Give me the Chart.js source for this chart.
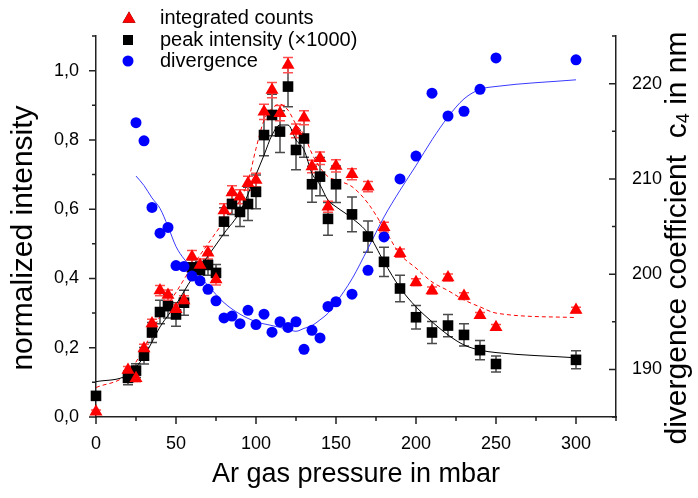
<!DOCTYPE html>
<html><head><meta charset="utf-8">
<script src="https://cdn.jsdelivr.net/npm/chart.js@4.4.0/dist/chart.umd.min.js"></script>
<style>html,body{margin:0;padding:0;background:#fff;}#wrap{width:698px;height:498px;}</style>
</head><body><div id="wrap"><canvas id="c" width="698" height="498"></canvas></div>
<script>
// ---- data ----
const pressureIntensity = [0,20,25,30,35,40,45,50,55,60,65,70,75,80,85,90,95,100,105,110,115,120,125,130,135,140,145,150,160,170,180,190,200,210,220,230,240,250,300];
const integratedCounts = [0.015,0.136,0.112,0.198,0.270,0.365,0.352,0.311,0.336,0.463,0.439,0.474,0.397,0.596,0.648,0.636,0.675,0.684,0.881,0.944,0.877,1.016,0.826,0.864,0.723,0.747,0.607,0.725,0.701,0.665,0.548,0.473,0.389,0.365,0.403,0.349,0.294,0.259,0.309];
const countsError = [0.005,0.010,0.010,0.012,0.012,0.015,0.015,0.013,0.014,0.018,0.017,0.018,0.016,0.020,0.020,0.020,0.020,0.020,0.022,0.022,0.022,0.022,0.020,0.020,0.018,0.018,0.016,0.018,0.016,0.015,0.014,0.012,0.010,0.010,0.010,0.010,0.008,0.008,0.008];
const peakIntensity = [0.061,0.113,0.134,0.177,0.244,0.303,0.320,0.296,0.330,0.432,0.424,0.439,0.416,0.564,0.615,0.592,0.615,0.650,0.814,0.872,0.824,0.954,0.771,0.804,0.672,0.694,0.572,0.672,0.585,0.521,0.448,0.371,0.288,0.244,0.264,0.237,0.193,0.153,0.165];
const peakError = [0,0.020,0.020,0.024,0.029,0.034,0.034,0.034,0.036,0.022,0.024,0.030,0.024,0.040,0.030,0.042,0.048,0.049,0.060,0.060,0.060,0.058,0.057,0.054,0.052,0.055,0.047,0.053,0.050,0.045,0.042,0.038,0.034,0.032,0.032,0.032,0.028,0.023,0.026];
const pressureDivergence = [25,30,35,40,45,50,55,60,65,70,75,80,85,90,95,100,105,110,115,120,125,130,135,140,145,150,160,170,180,190,200,210,220,230,240,250,300];
const divergence = [215.9,214.0,207.0,204.3,204.9,200.9,200.8,199.8,199.3,198.4,197.2,195.4,195.6,194.8,196.2,194.7,195.8,193.9,195.0,194.4,195.0,192.1,194.1,193.3,196.6,197.1,197.9,200.4,203.9,210.0,212.4,219.0,216.6,217.1,219.4,222.7,222.5];

const fitPeakX = [0,20,30,40,50,60,70,80,90,100,105,110,115,120,125,130,135,140,145,150,160,170,180,190,200,210,220,230,240,250,300];
const fitPeakY = [0.102,0.122,0.175,0.26,0.325,0.40,0.465,0.53,0.593,0.70,0.756,0.814,0.843,0.843,0.80,0.771,0.703,0.67,0.626,0.607,0.574,0.53,0.448,0.373,0.318,0.275,0.237,0.208,0.193,0.186,0.171];
const fitCountsX = [0,20,30,40,50,60,70,80,90,95,100,105,110,115,120,125,130,135,140,145,150,160,170,180,190,200,210,220,230,240,250,300];
const fitCountsY = [0.085,0.126,0.20,0.29,0.36,0.434,0.50,0.565,0.626,0.68,0.775,0.857,0.891,0.903,0.886,0.845,0.815,0.76,0.72,0.694,0.684,0.665,0.617,0.545,0.47,0.43,0.39,0.365,0.338,0.318,0.300,0.287];
const fitDivX = [25,30,35,40,45,50,55,60,70,80,90,100,110,120,125,130,135,140,145,150,160,170,180,190,200,210,220,230,240,250,300];
const fitDivY = [210.3,209.3,208.0,206.9,205.0,202.9,201.6,200.7,198.8,197.0,195.8,195.0,194.6,194.2,194.0,194.3,194.6,195.2,195.9,197.0,199.5,202.7,206.0,208.8,211.4,214.1,216.5,218.4,219.4,219.7,220.4];

const xMajorTicks = [0,50,100,150,200,250,300];
const xMinorTicks = [25,75,125,175,225,275,325];
const leftMajorTicks = [0,0.2,0.4,0.6,0.8,1.0];
const leftMinorTicks = [0.1,0.3,0.5,0.7,0.9,1.1];
const rightMajorTicks = [190,200,210,220];
const rightMinorTicks = [185,195,205,215,225];
const legendLabels = ['integrated counts','peak intensity (\u00d71000)','divergence'];

const FONT = '"Liberation Sans", Arial, sans-serif';
const zip = (xs, ys) => xs.map((x, i) => ({x, y: ys[i]}));

const customPlugin = {
  id: 'custom',
  beforeDatasetsDraw(chart) {
    const ctx = chart.ctx, xs = chart.scales.x, yl = chart.scales.y;
    ctx.save();
    const bars = (vals, errs, color, w) => {
      ctx.strokeStyle = color; ctx.lineWidth = w;
      vals.forEach((v, i) => {
        if (!errs[i]) return;
        const px = xs.getPixelForValue(pressureIntensity[i]);
        const t = yl.getPixelForValue(v + errs[i]), b = yl.getPixelForValue(v - errs[i]);
        ctx.beginPath();
        ctx.moveTo(px, t); ctx.lineTo(px, b);
        ctx.moveTo(px - 5, t); ctx.lineTo(px + 5, t);
        ctx.moveTo(px - 5, b); ctx.lineTo(px + 5, b);
        ctx.stroke();
      });
    };
    bars(peakIntensity, peakError, '#4a4a4a', 1.5);
    bars(integratedCounts, countsError, '#ff5050', 1.5);
    ctx.restore();
  },
  afterDraw(chart) {
    const ctx = chart.ctx, xs = chart.scales.x, yl = chart.scales.y, yr = chart.scales.y2;
    const ca = chart.chartArea;
    ctx.save();
    ctx.strokeStyle = '#222'; ctx.lineWidth = 1.5;
    ctx.beginPath();
    xMajorTicks.forEach(v => { const p = xs.getPixelForValue(v); ctx.moveTo(p, ca.bottom); ctx.lineTo(p, ca.bottom + 7); });
    xMinorTicks.forEach(v => { const p = xs.getPixelForValue(v); ctx.moveTo(p, ca.bottom); ctx.lineTo(p, ca.bottom + 4); });
    leftMajorTicks.forEach(v => { const p = yl.getPixelForValue(v); ctx.moveTo(ca.left, p); ctx.lineTo(ca.left - 7, p); });
    leftMinorTicks.forEach(v => { const p = yl.getPixelForValue(v); ctx.moveTo(ca.left, p); ctx.lineTo(ca.left - 4, p); });
    rightMajorTicks.forEach(v => { const p = yr.getPixelForValue(v); ctx.moveTo(ca.right, p); ctx.lineTo(ca.right - 7, p); });
    rightMinorTicks.forEach(v => { const p = yr.getPixelForValue(v); ctx.moveTo(ca.right, p); ctx.lineTo(ca.right - 4, p); });
    ctx.stroke();

    // titles
    ctx.fillStyle = '#000';
    ctx.font = '27px ' + FONT;
    ctx.textAlign = 'center'; ctx.textBaseline = 'middle';
    ctx.fillText('Ar gas pressure in mbar', (ca.left + ca.right) / 2, 475);
    ctx.save();
    ctx.translate(24, 238); ctx.rotate(-Math.PI / 2);
    ctx.font = '30px ' + FONT;
    ctx.fillText('normalized intensity', 0, 0);
    ctx.restore();
    ctx.save();
    ctx.translate(678, 238); ctx.rotate(-Math.PI / 2);
    const p1 = 'divergence coefficient  c', sub = '4', p3 = ' in nm';
    ctx.font = '30px ' + FONT; const w1 = ctx.measureText(p1).width, w3 = ctx.measureText(p3).width;
    ctx.font = '18px ' + FONT; const w2 = ctx.measureText(sub).width;
    let x0 = -(w1 + w2 + w3) / 2;
    ctx.textAlign = 'left';
    ctx.font = '30px ' + FONT; ctx.fillText(p1, x0, 0);
    ctx.font = '18px ' + FONT; ctx.fillText(sub, x0 + w1, 6);
    ctx.font = '30px ' + FONT; ctx.fillText(p3, x0 + w1 + w2, 0);
    ctx.restore();

    // legend
    ctx.font = '20px ' + FONT; ctx.textAlign = 'left'; ctx.textBaseline = 'middle';
    const ly = [18, 40, 61];
    Chart.helpers.drawPoint(ctx, {pointStyle: 'triangle', radius: 7.5, borderWidth: 0}, 129, ly[0] + 1);
    ctx.fillStyle = '#ff0000'; ctx.fill();
    ctx.fillStyle = '#000'; ctx.fillRect(123, ly[1] - 5, 10, 10);
    ctx.fillStyle = '#0000ff'; ctx.beginPath(); ctx.arc(128, ly[2], 5.5, 0, Math.PI * 2); ctx.fill();
    ctx.fillStyle = '#000';
    legendLabels.forEach((t, i) => ctx.fillText(t, 160, ly[i]));
    ctx.restore();
  }
};

new Chart(document.getElementById('c'), {
  type: 'scatter',
  data: {
    datasets: [
      {label: legendLabels[2], data: zip(pressureDivergence, divergence), yAxisID: 'y2', pointStyle: 'circle', pointRadius: 5.5, backgroundColor: '#0000ff', borderWidth: 0, order: 0, clip: false},
      {label: legendLabels[0], data: zip(pressureIntensity, integratedCounts), yAxisID: 'y', pointStyle: 'triangle', pointRadius: 7.5, backgroundColor: '#ff0000', borderWidth: 0, order: 1, clip: false},
      {label: legendLabels[1], data: zip(pressureIntensity, peakIntensity), yAxisID: 'y', pointStyle: 'rect', pointRadius: 7.5, backgroundColor: '#000', borderWidth: 0, order: 2, clip: false},
      {label: 'fit peak', data: zip(fitPeakX, fitPeakY), yAxisID: 'y', showLine: true, pointRadius: 0, borderColor: '#000', borderWidth: 1, cubicInterpolationMode: 'monotone', order: 3},
      {label: 'fit counts', data: zip(fitCountsX, fitCountsY), yAxisID: 'y', showLine: true, pointRadius: 0, borderColor: '#ff0000', borderWidth: 1, borderDash: [4, 3], cubicInterpolationMode: 'monotone', order: 4},
      {label: 'fit divergence', data: zip(fitDivX, fitDivY), yAxisID: 'y2', showLine: true, pointRadius: 0, borderColor: '#3a3aff', borderWidth: 1, cubicInterpolationMode: 'monotone', order: 5}
    ]
  },
  options: {
    responsive: false, animation: false, devicePixelRatio: 1,
    layout: {padding: {top: 36, left: 0, right: 0, bottom: 0}},
    plugins: {legend: {display: false}, tooltip: {enabled: false}},
    scales: {
      x: {
        type: 'linear', min: 0, max: 325,
        afterBuildTicks: s => { s.ticks = xMajorTicks.map(v => ({value: v})); },
        afterFit: s => { s.height = 81; },
        grid: {display: false},
        border: {display: true, color: '#222', width: 1.5},
        ticks: {color: '#000', font: {size: 18, family: FONT}, padding: 8, maxRotation: 0, callback: v => String(v)}
      },
      y: {
        type: 'linear', position: 'left', min: 0, max: 1.1,
        afterBuildTicks: s => { s.ticks = leftMajorTicks.map(v => ({value: v})); },
        afterFit: s => { s.width = 96; },
        grid: {display: false},
        border: {display: true, color: '#222', width: 1.5},
        ticks: {color: '#000', font: {size: 18, family: FONT}, padding: 9, callback: v => v.toFixed(1).replace('.', ',')}
      },
      y2: {
        type: 'linear', position: 'right', min: 185, max: 225,
        afterBuildTicks: s => { s.ticks = rightMajorTicks.map(v => ({value: v})); },
        afterFit: s => { s.width = 82; },
        grid: {display: false},
        border: {display: true, color: '#222', width: 1.5},
        ticks: {color: '#000', font: {size: 18, family: FONT}, padding: 8, callback: v => String(v)}
      }
    }
  },
  plugins: [customPlugin]
});
</script></body></html>
